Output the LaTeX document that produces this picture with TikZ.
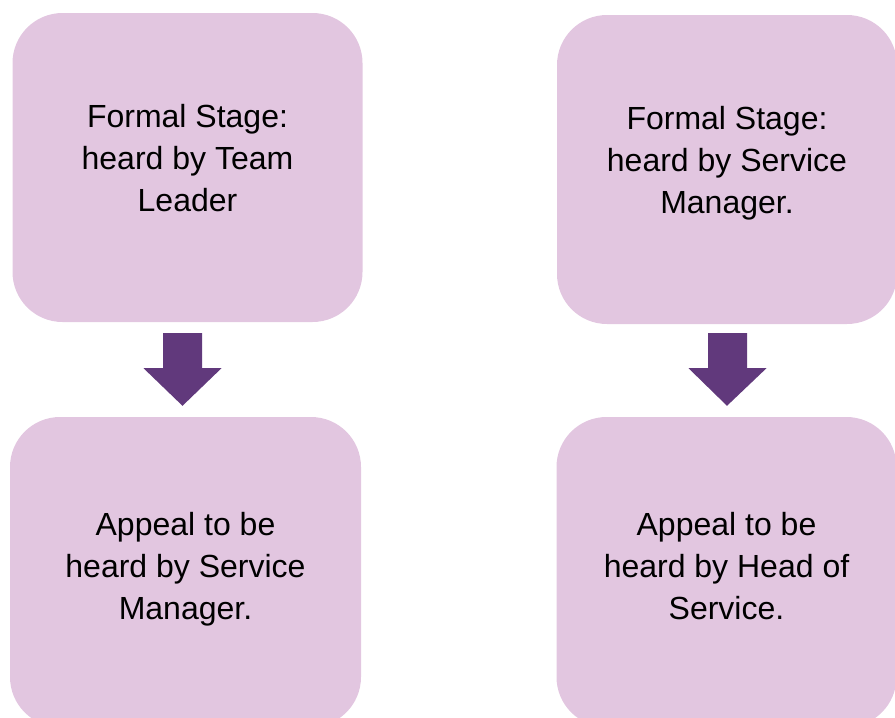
\documentclass[tikz,border=0pt]{standalone}
\usepackage{fontspec}
\setmainfont{Liberation Sans}
\usetikzlibrary{calc}
\definecolor{boxpink}{HTML}{E2C6E0}
\definecolor{flowpurple}{HTML}{61397C}
\begin{document}
\begin{tikzpicture}[x=1pt,y=-1pt]
			\tikzstyle{stage} = [
				rectangle, fill = boxpink, rounded corners = 50pt,
				inner sep = 0pt, align = center,
				font = \fontsize{32}{42}\selectfont
			]
			\tikzstyle{flow}=[fill=flowpurple]
			\useasboundingbox (0,0) rectangle (895,718);
			\clip (0,0) rectangle (895,718);
			\node[stage, minimum width = 350pt, minimum height = 309pt, text depth = 20pt] (fsl) at (187.5,167.5) {Formal Stage:\\heard by Team\\Leader};
			\node[stage, minimum width = 340pt, minimum height = 309pt, text depth = 20pt] (fsr) at (727,169.5) {Formal Stage:\\heard by Service\\Manager.};
			\node[stage, minimum width = 351pt, minimum height = 310pt, text depth = 12pt] (apl) at (185.5,572) {Appeal to be\\heard by Service\\Manager.};
			\node[stage, minimum width = 340pt, minimum height = 310pt, text depth = 12pt] (apr) at (726.5,572) {Appeal to be\\heard by Head of\\Service.};
			\coordinate (al) at ($(fsl.south)+(-5,11)$);
			\coordinate (bl) at ($(apl.north)+(-3,-11)$);
			\coordinate (ar) at ($(fsr.south)+(0.5,9)$);
			\coordinate (br) at ($(apr.north)+(0.5,-11)$);
			\fill[flow] ($(al)+(-19.5,0)$) -- ($(al)+(19.5,0)$) -- ($(al)+(19.5,35)$) -- ($(al)+(39,35)$) -- (bl) -- ($(al)+(-39,35)$) -- ($(al)+(-19.5,35)$) -- cycle;
			\fill[flow] ($(ar)+(-19.5,0)$) -- ($(ar)+(19.5,0)$) -- ($(ar)+(19.5,35)$) -- ($(ar)+(39,35)$) -- (br) -- ($(ar)+(-39,35)$) -- ($(ar)+(-19.5,35)$) -- cycle;
		\end{tikzpicture}
\end{document}
